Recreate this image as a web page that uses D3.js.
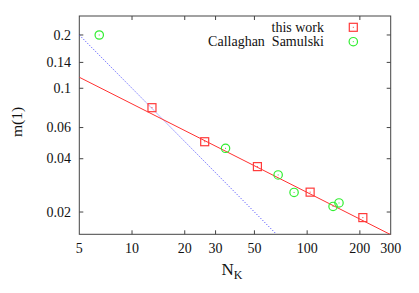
<!DOCTYPE html>
<html>
<head>
<meta charset="utf-8">
<script src="https://cdn.jsdelivr.net/npm/d3@7"></script>
<style>
  html, body { margin: 0; padding: 0; background: #fff; }
  svg { display: block; font-family: "Liberation Serif", "DejaVu Serif", serif; }
</style>
</head>
<body>
<div id="chart"></div>
<script>
(function () {
  "use strict";

  // data
  const WORK_N = [13, 26, 52, 104, 208];
  const WORK_M = [0.0777, 0.0499, 0.0361, 0.0259, 0.0186];
  const CS_N = [6.5, 34.2, 68.3, 84.2, 140.6, 152];
  const CS_M = [0.2, 0.0458, 0.0324, 0.0258, 0.0215, 0.0225];
  // fitted line (red) and 1/N guide (blue), endpoints
  const FIT_N = [5, 300];
  const FIT_M = [0.1154, 0.0149];
  const GUIDE_N = [5, 66.7];
  const GUIDE_M = [0.2, 0.015];

  const X_TICKS = [5, 10, 20, 30, 50, 100, 200, 300];
  const Y_TICKS = [0.02, 0.04, 0.06, 0.1, 0.14, 0.2];

  const width = 419, height = 293;
  const left = 79.3, right = 390.7, top = 16, bottom = 234.3;
  const axisColor = "#444";
  const fontSize = 14;

  const svg = d3.select("#chart").append("svg")
    .attr("width", width)
    .attr("height", height);

  const x = d3.scaleLog().domain([5, 300]).range([left, right]);
  const y = d3.scaleLog().domain([0.01497, 0.256]).range([bottom, top]);

  svg.append("defs").append("clipPath").attr("id", "plot-clip")
    .append("rect")
    .attr("x", left).attr("y", top)
    .attr("width", right - left).attr("height", bottom - top);

  // ticks, mirrored like gnuplot
  const tickLen = 4;
  const ticks = svg.append("g").attr("stroke", axisColor).attr("stroke-width", 1);
  X_TICKS.forEach((t) => {
    if (t === 5 || t === 300) return;
    ticks.append("line").attr("x1", x(t)).attr("x2", x(t)).attr("y1", bottom).attr("y2", bottom - tickLen);
    if (t !== 100) {
      ticks.append("line").attr("x1", x(t)).attr("x2", x(t)).attr("y1", top).attr("y2", top + tickLen);
    }
  });
  Y_TICKS.forEach((t) => {
    ticks.append("line").attr("x1", left).attr("x2", left + tickLen).attr("y1", y(t)).attr("y2", y(t));
    ticks.append("line").attr("x1", right).attr("x2", right - tickLen).attr("y1", y(t)).attr("y2", y(t));
  });

  // border
  svg.append("rect")
    .attr("x", left).attr("y", top)
    .attr("width", right - left).attr("height", bottom - top)
    .attr("fill", "none")
    .attr("stroke", axisColor)
    .attr("stroke-width", 1);

  // tick labels
  svg.append("g").selectAll("text")
    .data(X_TICKS)
    .join("text")
    .attr("x", (d) => x(d))
    .attr("y", 253)
    .attr("text-anchor", "middle")
    .attr("font-size", fontSize)
    .attr("fill", "#111")
    .text((d) => d);

  svg.append("g").selectAll("text")
    .data(Y_TICKS)
    .join("text")
    .attr("x", 71)
    .attr("y", (d) => y(d))
    .attr("dy", "0.33em")
    .attr("text-anchor", "end")
    .attr("font-size", fontSize)
    .attr("fill", "#111")
    .text((d) => d);

  // axis titles
  svg.append("text")
    .attr("transform", "translate(22,122) rotate(-90)")
    .attr("text-anchor", "middle")
    .attr("font-size", 15.5)
    .attr("fill", "#111")
    .text("m(1)");

  const xt = svg.append("text")
    .attr("x", 232)
    .attr("y", 275)
    .attr("text-anchor", "middle")
    .attr("font-size", 17)
    .attr("fill", "#111");
  xt.append("tspan").text("N");
  xt.append("tspan").attr("font-size", 12).attr("dy", 4).text("K");

  const plot = svg.append("g").attr("clip-path", "url(#plot-clip)");
  const line = d3.line().x((d) => x(d[0])).y((d) => y(d[1]));

  plot.append("path")
    .attr("d", line(d3.zip(GUIDE_N, GUIDE_M)))
    .attr("fill", "none")
    .attr("stroke", "#5555ff")
    .attr("stroke-width", 1)
    .attr("stroke-dasharray", "1.2,1.6");

  plot.append("path")
    .attr("d", line(d3.zip(FIT_N, FIT_M)))
    .attr("fill", "none")
    .attr("stroke", "#ff3030")
    .attr("stroke-width", 1);

  const red = "#ff3a3a", green = "#30ee30";

  function square(g, cx, cy) {
    g.append("rect")
      .attr("x", cx - 4).attr("y", cy - 4)
      .attr("width", 8).attr("height", 8)
      .attr("fill", "none").attr("stroke", red).attr("stroke-width", 1.2);
    g.append("rect")
      .attr("x", cx - 0.5).attr("y", cy - 0.5)
      .attr("width", 1).attr("height", 1)
      .attr("fill", red);
  }
  function circle(g, cx, cy) {
    g.append("circle")
      .attr("cx", cx).attr("cy", cy).attr("r", 4.2)
      .attr("fill", "none").attr("stroke", green).attr("stroke-width", 1.2);
    g.append("rect")
      .attr("x", cx - 0.5).attr("y", cy - 0.5)
      .attr("width", 1).attr("height", 1)
      .attr("fill", green);
  }

  const marks = svg.append("g");
  WORK_N.forEach((n, i) => square(marks, x(n), y(WORK_M[i])));
  CS_N.forEach((n, i) => circle(marks, x(n), y(CS_M[i])));

  // legend
  const legend = svg.append("g");
  legend.append("text")
    .attr("x", 324).attr("y", 31.7)
    .attr("text-anchor", "end")
    .attr("font-size", fontSize)
    .attr("fill", "#111")
    .text("this work");
  legend.append("text")
    .attr("x", 324).attr("y", 45.7)
    .attr("text-anchor", "end")
    .attr("font-size", fontSize)
    .attr("fill", "#111")
    .attr("xml:space", "preserve")
    .style("white-space", "pre")
    .text("Callaghan  Samulski");
  square(legend, 353.3, 27.3);
  circle(legend, 353.3, 41.7);
})();
</script>
</body>
</html>
